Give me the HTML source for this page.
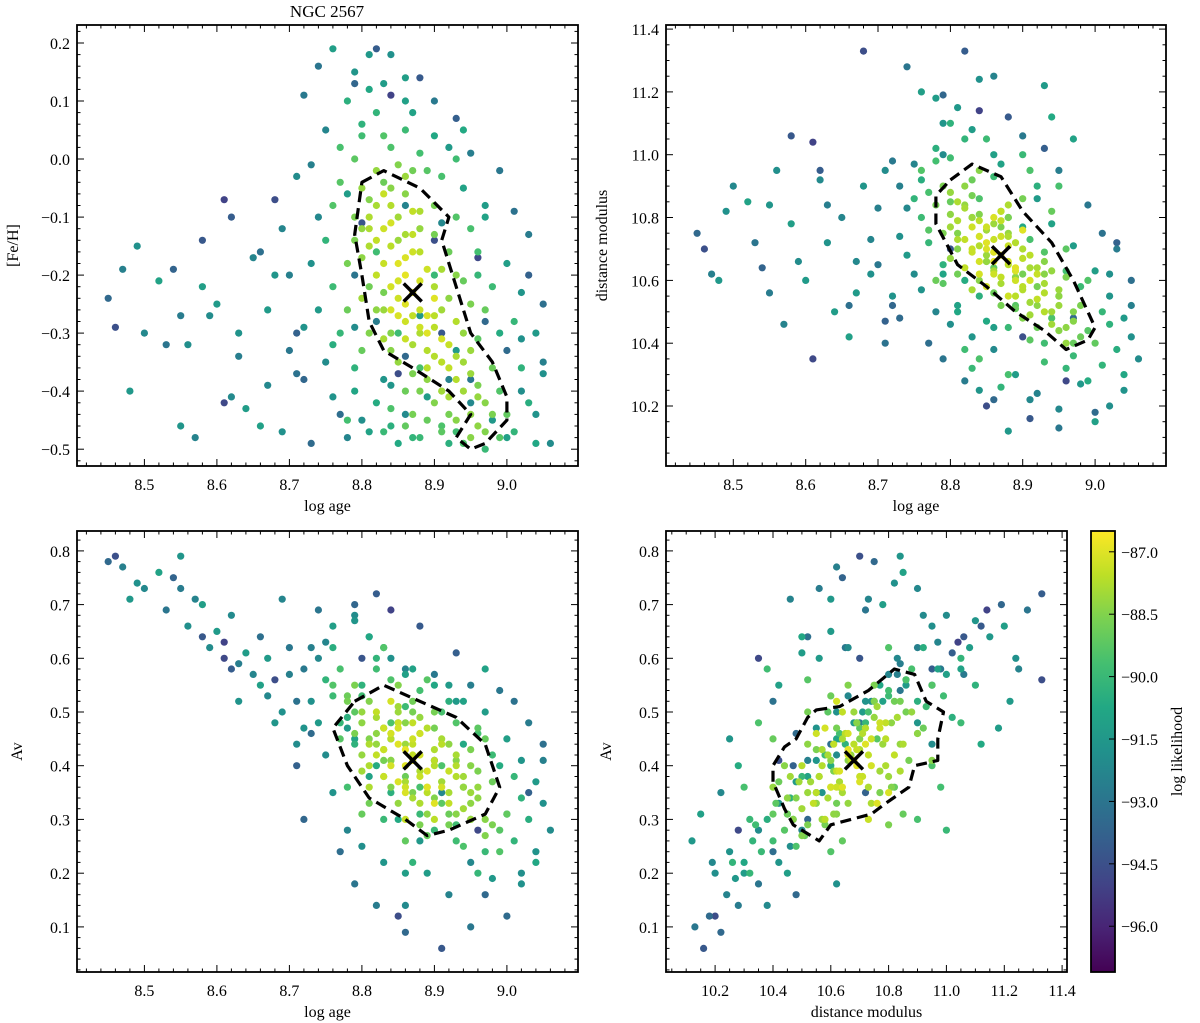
<!DOCTYPE html>
<html><head><meta charset="utf-8"><style>
html,body{margin:0;padding:0;background:#fff;}
svg{display:block;font-family:"Liberation Serif","DejaVu Serif",serif;}
</style></head><body>
<svg id="fig" width="1200" height="1023" viewBox="0 0 1200 1023" xmlns="http://www.w3.org/2000/svg">
<defs>
<linearGradient id="vir" x1="0" y1="1" x2="0" y2="0">
<stop offset="0" stop-color="#440154"/><stop offset="0.1" stop-color="#482475"/><stop offset="0.2" stop-color="#414487"/><stop offset="0.3" stop-color="#355f8d"/><stop offset="0.4" stop-color="#2a788e"/><stop offset="0.5" stop-color="#21918c"/><stop offset="0.6" stop-color="#22a884"/><stop offset="0.7" stop-color="#44bf70"/><stop offset="0.8" stop-color="#7ad151"/><stop offset="0.9" stop-color="#bddf26"/><stop offset="1" stop-color="#fde725"/>
</linearGradient>
</defs>
<text x="327" y="17" font-size="17" text-anchor="middle">NGC 2567</text>
</svg>
<script>
const samples=[
[8.87,-0.23,10.68,0.41,-86.8],[8.85,-0.18,10.72,0.44,-87.0],[8.89,-0.27,10.63,0.39,-87.1],[8.83,-0.12,10.77,0.47,-87.3],[8.91,-0.31,10.60,0.36,-87.2],[8.86,-0.20,10.66,0.43,-86.9],[8.88,-0.26,10.71,0.38,-87.4],[8.84,-0.15,10.79,0.45,-87.6],[8.90,-0.34,10.57,0.40,-87.7],[8.82,-0.08,10.83,0.49,-87.9],[8.92,-0.36,10.54,0.33,-87.5],[8.80,-0.05,10.88,0.50,-88.2],[8.94,-0.40,10.50,0.32,-88.0],[8.86,-0.28,10.62,0.36,-87.3],[8.84,-0.22,10.74,0.40,-87.2],[8.88,-0.16,10.65,0.46,-87.6],[8.90,-0.22,10.70,0.43,-87.8],[8.83,-0.26,10.80,0.38,-88.1],[8.87,-0.32,10.59,0.34,-87.9],[8.85,-0.10,10.76,0.51,-88.0],[8.81,-0.15,10.85,0.44,-87.8],[8.93,-0.28,10.56,0.38,-87.7],[8.89,-0.38,10.61,0.31,-88.3],[8.86,-0.06,10.69,0.48,-88.4],[8.82,-0.20,10.73,0.42,-87.5],[8.95,-0.33,10.52,0.35,-88.1],[8.91,-0.19,10.64,0.45,-87.9],[8.84,-0.30,10.81,0.36,-88.5],[8.88,-0.12,10.75,0.49,-88.2],[8.79,-0.10,10.90,0.46,-88.6],[8.97,-0.42,10.47,0.30,-88.4],[8.92,-0.44,10.58,0.29,-88.7],[8.96,-0.46,10.45,0.34,-88.3],[8.85,-0.35,10.66,0.33,-88.2],[8.80,-0.24,10.77,0.39,-88.0],[8.87,-0.02,10.82,0.52,-88.8],[8.83,-0.04,10.92,0.47,-88.9],[8.90,-0.08,10.62,0.47,-88.7],[8.93,-0.20,10.66,0.41,-88.4],[8.95,-0.25,10.55,0.43,-88.6],[8.78,-0.18,10.84,0.52,-88.7],[8.81,-0.30,10.70,0.45,-88.5],[8.86,-0.40,10.56,0.38,-88.9],[8.89,-0.45,10.51,0.27,-89.0],[8.98,-0.36,10.42,0.37,-88.9],[9.00,-0.44,10.40,0.31,-89.1],[8.99,-0.48,10.44,0.28,-89.3],[8.94,-0.49,10.48,0.25,-89.5],[8.91,-0.47,10.41,0.33,-89.2],[8.76,-0.08,10.95,0.55,-89.4],[8.77,0.02,10.88,0.58,-89.6],[8.80,0.04,10.99,0.53,-89.8],[8.84,0.02,10.86,0.56,-89.5],[8.86,0.05,10.93,0.51,-89.9],[8.82,0.08,11.05,0.60,-90.2],[8.78,0.10,11.02,0.49,-90.4],[8.88,0.01,10.80,0.54,-89.7],[8.91,-0.03,10.73,0.50,-89.6],[8.93,-0.10,10.69,0.48,-89.4],[8.96,-0.16,10.63,0.46,-89.7],[8.98,-0.22,10.58,0.42,-89.9],[9.01,-0.28,10.50,0.38,-90.1],[9.02,-0.36,10.46,0.34,-90.3],[9.03,-0.42,10.38,0.30,-90.5],[9.01,-0.47,10.33,0.26,-90.2],[9.04,-0.49,10.30,0.22,-90.8],[8.97,-0.50,10.36,0.24,-90.0],[8.93,-0.47,10.34,0.29,-89.8],[8.88,-0.48,10.45,0.31,-90.0],[8.84,-0.46,10.55,0.35,-90.4],[8.82,-0.42,10.60,0.40,-90.6],[8.79,-0.36,10.65,0.44,-90.3],[8.77,-0.30,10.72,0.48,-90.1],[8.76,-0.22,10.80,0.53,-89.9],[8.75,-0.14,10.86,0.56,-90.2],[8.79,-0.40,10.62,0.45,-90.9],[8.81,-0.47,10.52,0.38,-91.0],[8.85,-0.49,10.47,0.30,-90.7],[8.90,0.04,10.77,0.55,-90.8],[8.87,0.08,10.97,0.58,-91.0],[8.83,0.13,11.08,0.62,-91.3],[8.81,0.18,11.15,0.64,-91.5],[8.76,0.19,11.20,0.66,-91.2],[8.84,0.18,11.24,0.60,-91.8],[8.79,0.15,11.10,0.67,-91.6],[8.86,0.10,11.00,0.57,-91.1],[8.92,0.02,10.86,0.55,-91.4],[8.94,-0.05,10.78,0.52,-91.0],[8.97,-0.08,10.71,0.50,-91.3],[9.00,-0.18,10.63,0.45,-91.2],[9.02,-0.23,10.55,0.41,-91.6],[9.04,-0.30,10.48,0.37,-91.4],[9.05,-0.37,10.42,0.33,-91.8],[9.06,-0.49,10.35,0.28,-92.0],[9.04,-0.44,10.25,0.24,-91.7],[9.02,-0.40,10.20,0.20,-91.9],[8.98,-0.45,10.27,0.19,-91.5],[8.95,-0.42,10.19,0.22,-92.2],[8.92,-0.38,10.24,0.16,-92.4],[8.89,-0.41,10.30,0.20,-91.3],[8.86,-0.44,10.38,0.14,-92.1],[8.83,-0.38,10.42,0.22,-91.6],[8.80,-0.45,10.46,0.25,-91.9],[8.78,-0.48,10.50,0.28,-92.3],[8.76,-0.41,10.57,0.35,-91.7],[8.75,-0.35,10.62,0.42,-92.0],[8.74,-0.26,10.68,0.48,-91.4],[8.73,-0.18,10.74,0.52,-91.8],[8.74,-0.10,10.83,0.60,-92.2],[8.73,-0.01,10.90,0.62,-92.5],[8.75,0.05,10.97,0.63,-92.3],[8.74,0.16,11.28,0.69,-93.0],[8.82,0.19,11.33,0.72,-94.0],[8.79,0.13,11.19,0.70,-93.6],[8.90,0.10,11.06,0.57,-92.8],[8.95,0.01,10.95,0.55,-92.6],[8.99,-0.02,10.84,0.54,-92.9],[9.01,-0.09,10.75,0.52,-93.1],[9.03,-0.13,10.70,0.48,-92.7],[9.05,-0.25,10.60,0.44,-93.2],[9.05,-0.35,10.52,0.41,-92.5],[9.00,-0.33,10.18,0.12,-93.4],[8.95,-0.38,10.13,0.10,-92.9],[8.91,-0.30,10.16,0.06,-94.2],[8.86,-0.34,10.22,0.09,-93.5],[8.82,-0.28,10.28,0.14,-92.7],[8.79,-0.20,10.35,0.18,-93.0],[8.77,-0.44,10.40,0.24,-93.3],[8.72,-0.38,10.52,0.30,-93.6],[8.71,-0.30,10.47,0.40,-93.8],[9.03,-0.20,10.72,0.35,-93.8],[8.97,-0.28,10.48,0.16,-93.5],[8.93,0.07,11.02,0.61,-93.9],[8.88,0.14,11.12,0.66,-94.1],[8.85,-0.37,10.20,0.12,-94.6],[8.96,-0.17,10.28,0.28,-94.8],[8.84,0.11,11.14,0.69,-95.0],[8.90,-0.14,10.42,0.41,-94.5],[8.80,-0.11,10.70,0.60,-94.3],
[8.86,-0.25,10.69,0.40,-87.0],[8.88,-0.21,10.66,0.42,-87.2],[8.85,-0.27,10.70,0.37,-87.1],[8.87,-0.16,10.74,0.45,-87.3],[8.89,-0.30,10.64,0.36,-87.0],[8.83,-0.18,10.69,0.43,-87.4],[8.90,-0.27,10.67,0.41,-87.6],[8.84,-0.08,10.71,0.46,-87.7],[8.92,-0.32,10.62,0.39,-87.4],[8.81,-0.12,10.79,0.40,-87.8],[8.93,-0.34,10.59,0.42,-87.9],[8.87,-0.09,10.79,0.48,-87.5],[8.89,-0.36,10.55,0.35,-87.6],[8.91,-0.40,10.53,0.37,-88.0],[8.85,-0.14,10.68,0.50,-88.1],[8.82,-0.02,10.84,0.44,-88.2],[8.95,-0.37,10.57,0.30,-88.1],[8.88,-0.30,10.74,0.33,-87.8],[8.86,-0.13,10.63,0.37,-87.9],[8.80,-0.17,10.81,0.48,-88.3],[8.94,-0.30,10.63,0.36,-88.2],[8.90,-0.42,10.48,0.34,-88.5],[8.84,-0.33,10.60,0.41,-88.4],[8.92,-0.24,10.52,0.44,-88.3],[8.96,-0.39,10.61,0.39,-88.6],[8.81,-0.07,10.75,0.52,-88.5],[8.87,-0.37,10.77,0.35,-88.6],[8.83,-0.23,10.87,0.41,-88.7],
[8.84,-0.11,10.62,0.52,-87.2],[8.86,-0.17,10.80,0.35,-87.1],[8.88,-0.29,10.55,0.46,-87.3],[8.90,-0.24,10.76,0.33,-87.0],[8.83,-0.06,10.70,0.38,-87.4],[8.85,-0.21,10.58,0.47,-87.2],[8.87,-0.27,10.82,0.42,-87.5],[8.89,-0.19,10.60,0.36,-87.3],[8.91,-0.35,10.68,0.44,-87.6],[8.82,-0.14,10.64,0.50,-87.5],[8.93,-0.38,10.50,0.40,-87.7],[8.86,-0.31,10.73,0.30,-87.4],[8.84,-0.26,10.66,0.46,-87.2],[8.88,-0.09,10.84,0.39,-87.8],[8.90,-0.29,10.58,0.30,-87.6],[8.85,-0.24,10.77,0.48,-87.3],[8.87,-0.13,10.61,0.44,-87.5],[8.92,-0.41,10.64,0.35,-87.9],[8.81,-0.10,10.73,0.36,-87.8],[8.94,-0.35,10.46,0.38,-88.0],[8.83,-0.31,10.57,0.43,-87.9],[8.86,-0.03,10.78,0.44,-88.1],[8.89,-0.33,10.72,0.47,-87.7],[8.91,-0.26,10.49,0.37,-88.0],[8.80,-0.12,10.67,0.42,-88.2],[8.95,-0.44,10.55,0.33,-88.3],[8.96,-0.41,10.40,0.36,-88.2],[8.93,-0.45,10.62,0.31,-88.4],[8.97,-0.47,10.50,0.27,-88.5],[8.95,-0.48,10.44,0.40,-88.4],[8.98,-0.44,10.52,0.29,-88.6],[8.82,-0.26,10.90,0.46,-88.3],[8.84,-0.05,10.95,0.41,-88.4],[8.85,-0.01,10.66,0.55,-88.5],[8.88,-0.40,10.80,0.29,-88.6],[8.87,-0.44,10.52,0.50,-88.7],[8.79,-0.14,10.75,0.55,-88.6],[8.81,-0.22,10.62,0.33,-88.8],[8.90,-0.13,10.86,0.50,-88.7],[8.92,-0.16,10.45,0.31,-88.9],[8.94,-0.21,10.82,0.36,-89.0],[8.78,-0.26,10.60,0.53,-88.9],[8.80,-0.33,10.85,0.31,-89.0],[8.86,-0.46,10.64,0.26,-89.1],[8.96,-0.31,10.70,0.47,-89.2],[8.97,-0.26,10.40,0.45,-89.0],[8.77,-0.04,10.76,0.45,-89.3],[8.79,0.00,10.59,0.50,-89.2],[8.83,0.04,10.80,0.62,-89.4],[8.89,-0.02,10.52,0.56,-89.3],[8.91,-0.46,10.95,0.40,-89.5],[8.99,-0.40,10.60,0.24,-89.4],[8.95,-0.12,10.90,0.30,-89.6],[8.84,-0.43,10.35,0.48,-89.5],[8.78,-0.45,10.98,0.36,-89.7],[8.93,0.00,10.40,0.26,-89.8],[8.88,-0.36,10.30,0.36,-89.6],[8.85,-0.30,11.05,0.48,-89.9],[8.90,-0.20,11.00,0.28,-90.0],[8.82,-0.16,10.38,0.58,-89.8],[8.96,-0.20,10.32,0.20,-90.1],[8.80,0.06,11.10,0.55,-90.3],[8.87,-0.48,10.26,0.22,-90.2],[8.92,-0.49,10.90,0.52,-90.4],[8.76,-0.32,10.92,0.62,-90.5],[8.99,-0.30,10.28,0.40,-90.6],[8.83,-0.47,10.32,0.30,-90.0],[8.94,0.05,11.12,0.44,-90.7],[8.81,0.12,10.50,0.64,-90.8],[8.97,-0.10,11.05,0.58,-91.0],[8.86,0.14,10.45,0.20,-91.2],[9.00,-0.48,10.15,0.31,-91.1],[8.78,-0.06,11.18,0.47,-91.3],[8.88,-0.27,10.12,0.26,-91.5],[8.93,-0.33,11.22,0.52,-91.4],[8.84,-0.39,10.25,0.45,-91.6],[9.02,-0.31,10.62,0.18,-91.8],[8.79,-0.29,11.00,0.68,-92.0],[8.91,-0.11,10.22,0.35,-92.2],[8.86,-0.08,11.25,0.58,-92.4],
[8.45,-0.24,10.75,0.78,-93.5],[8.46,-0.29,10.70,0.79,-94.5],[8.47,-0.19,10.62,0.77,-92.5],[8.49,-0.15,10.82,0.74,-91.8],[8.48,-0.40,10.60,0.71,-91.5],[8.50,-0.30,10.90,0.73,-92.2],[8.52,-0.21,10.85,0.76,-91.0],[8.53,-0.32,10.72,0.69,-93.0],[8.54,-0.19,10.64,0.75,-93.7],[8.55,-0.46,10.84,0.79,-91.6],[8.55,-0.27,10.56,0.73,-92.7],[8.56,-0.32,10.95,0.66,-91.9],[8.57,-0.48,10.46,0.71,-92.4],[8.58,-0.14,11.06,0.64,-94.2],[8.58,-0.22,10.78,0.70,-91.2],[8.59,-0.27,10.66,0.62,-92.0],[8.60,-0.25,10.60,0.65,-91.4],[8.61,-0.42,10.35,0.60,-94.8],[8.61,-0.07,11.04,0.63,-95.0],[8.62,-0.10,10.95,0.58,-94.0],[8.63,-0.34,10.84,0.59,-92.6],[8.63,-0.30,10.72,0.52,-91.7],[8.64,-0.43,10.50,0.61,-91.3],[8.65,-0.17,10.80,0.57,-92.3],[8.66,-0.46,10.42,0.55,-91.1],[8.67,-0.26,10.56,0.60,-91.4],[8.67,-0.39,10.66,0.53,-92.2],[8.68,-0.07,11.33,0.56,-94.6],[8.68,-0.20,10.90,0.48,-91.6],[8.69,-0.12,10.73,0.71,-92.3],[8.69,-0.47,10.62,0.50,-91.8],[8.70,-0.20,10.83,0.57,-92.5],[8.71,-0.03,10.95,0.44,-92.0],[8.71,-0.37,10.40,0.52,-93.1],[8.72,-0.29,10.55,0.47,-91.7],[8.72,0.11,10.98,0.58,-92.8],[8.73,-0.49,10.48,0.46,-93.4],[8.70,-0.33,10.65,0.62,-92.9],[8.66,-0.16,10.52,0.64,-93.2],[8.62,-0.41,10.92,0.68,-92.1]
];
const logAge=samples.map(r=>r[0]);
const feh=samples.map(r=>r[1]);
const distMod=samples.map(r=>r[2]);
const av=samples.map(r=>r[3]);
const logLike=samples.map(r=>r[4]);

const bestFit={age:8.87,feh:-0.23,dm:10.68,av:0.41};
const contourAgeFeh=[[8.80,-0.04],[8.83,-0.02],[8.88,-0.05],[8.92,-0.10],[8.91,-0.14],[8.93,-0.22],[8.95,-0.30],[8.98,-0.35],[9.0,-0.41],[9.0,-0.45],[8.97,-0.49],[8.95,-0.50],[8.93,-0.48],[8.95,-0.44],[8.92,-0.40],[8.87,-0.36],[8.83,-0.33],[8.81,-0.28],[8.80,-0.20],[8.79,-0.13]];
const contourAgeDm=[[8.80,10.92],[8.83,10.97],[8.87,10.93],[8.90,10.82],[8.94,10.72],[8.97,10.60],[9.0,10.45],[8.99,10.41],[8.96,10.38],[8.93,10.44],[8.89,10.50],[8.85,10.58],[8.81,10.65],[8.78,10.78],[8.78,10.87]];
const contourAgeAv=[[8.79,0.52],[8.83,0.55],[8.88,0.52],[8.93,0.49],[8.97,0.44],[8.99,0.36],[8.97,0.31],[8.92,0.28],[8.89,0.27],[8.86,0.30],[8.81,0.34],[8.78,0.40],[8.76,0.47]];
const contourDmAv=[[10.55,0.504],[10.63,0.51],[10.73,0.54],[10.82,0.58],[10.89,0.57],[10.93,0.52],[10.99,0.50],[10.97,0.45],[10.97,0.41],[10.89,0.40],[10.87,0.36],[10.79,0.33],[10.74,0.31],[10.67,0.30],[10.60,0.29],[10.56,0.26],[10.47,0.29],[10.44,0.32],[10.40,0.37],[10.40,0.40],[10.44,0.435],[10.48,0.45],[10.52,0.49]];
const cbarTicks=[-87.0,-88.5,-90.0,-91.5,-93.0,-94.5,-96.0];
const cbarRange=[-97.1,-86.5];

const NS="http://www.w3.org/2000/svg";
const svg=document.getElementById('fig');
function mk(tag,attrs,parent){const e=document.createElementNS(NS,tag);for(const k in attrs)e.setAttribute(k,attrs[k]);(parent||svg).appendChild(e);return e;}
const vstops=[[0,[68,1,84]],[0.1,[72,36,117]],[0.2,[65,68,135]],[0.3,[53,95,141]],[0.4,[42,120,142]],[0.5,[33,145,140]],[0.6,[34,168,132]],[0.7,[68,191,112]],[0.8,[122,209,81]],[0.9,[189,223,38]],[1,[253,231,37]]];
function viridis(t){t=Math.max(0,Math.min(1,t));for(let i=1;i<vstops.length;i++){if(t<=vstops[i][0]){const a=vstops[i-1],b=vstops[i];const f=(t-a[0])/(b[0]-a[0]);const c=a[1].map((v,j)=>Math.round(v+(b[1][j]-v)*f));return `rgb(${c[0]},${c[1]},${c[2]})`;}}return 'rgb(253,231,37)';}
function fmt(v,d){const s=Math.abs(v).toFixed(d);return (v<-1e-9?'\u2212':'')+s;}

function panel(cfg){
  const g=mk('g',{});
  
  
  const [L,T,R,B]=cfg.box;
  const sx=v=>L+(v-cfg.xr[0])/(cfg.xr[1]-cfg.xr[0])*(R-L);
  const sy=v=>B-(v-cfg.yr[0])/(cfg.yr[1]-cfg.yr[0])*(B-T);
  const clipId=cfg.name+'-clip';
  const cp=mk('clipPath',{id:clipId},g);mk('rect',{x:L,y:T,width:R-L,height:B-T},cp);
  const dots=mk('g',{'clip-path':`url(#${clipId})`},g);
  
  
  const idx=cfg.xs.map((_,i)=>i).sort((a,b)=>logLike[a]-logLike[b]);
  idx.forEach(i=>{
    const c=mk('circle',{cx:sx(cfg.xs[i]).toFixed(1),cy:sy(cfg.ys[i]).toFixed(1),r:3.6,fill:viridis((logLike[i]-cbarRange[0])/(cbarRange[1]-cbarRange[0]))},dots);
    
    
  });
  const pts=cfg.contour.map(p=>sx(p[0]).toFixed(1)+','+sy(p[1]).toFixed(1)).join(' ');
  const poly=mk('polygon',{points:pts,fill:'none',stroke:'#000','stroke-width':3.2,'stroke-dasharray':'11,6','stroke-linejoin':'round'},g);
  
  
  const mx=sx(cfg.best[0]),my=sy(cfg.best[1]);
  const xm=mk('path',{d:`M${mx-9},${my-9}L${mx+9},${my+9}M${mx-9},${my+9}L${mx+9},${my-9}`,stroke:'#000','stroke-width':3.5},g);
  
  
  const tk=mk('g',{stroke:'#000','stroke-width':1},g);
  const eps=1e-9;
  for(let v=Math.ceil(cfg.xr[0]/cfg.xminor-eps)*cfg.xminor;v<=cfg.xr[1]+eps;v+=cfg.xminor){
    const x=sx(v).toFixed(1);const maj=Math.abs(v/cfg.xmajor-Math.round(v/cfg.xmajor))<1e-6;const l=maj?7:3.5;
    mk('line',{x1:x,y1:B,x2:x,y2:B-l},tk);mk('line',{x1:x,y1:T,x2:x,y2:T+l},tk);
  }
  for(let v=Math.ceil(cfg.yr[0]/cfg.yminor-eps)*cfg.yminor;v<=cfg.yr[1]+eps;v+=cfg.yminor){
    const y=sy(v).toFixed(1);const maj=Math.abs(v/cfg.ymajor-Math.round(v/cfg.ymajor))<1e-6;const l=maj?7:3.5;
    mk('line',{x1:L,y1:y,x2:L+l,y2:y},tk);mk('line',{x1:R,y1:y,x2:R-l,y2:y},tk);
  }
  cfg.xticks.forEach(v=>{const t=mk('text',{x:sx(v),y:B+24,'font-size':16,'text-anchor':'middle'},g);t.textContent=fmt(v,1);
    });
  cfg.yticks.forEach(v=>{const t=mk('text',{x:L-7,y:sy(v)+6,'font-size':16,'text-anchor':'end'},g);t.textContent=fmt(v,1);
    });
  const fr=mk('rect',{x:L,y:T,width:R-L,height:B-T,fill:'none',stroke:'#000','stroke-width':1.8},g);
  
  const xl=mk('text',{x:(L+R)/2,y:B+45,'font-size':16,'text-anchor':'middle'},g);xl.textContent=cfg.xlabel;
  
  const yx=L-cfg.ylabOff,yy=(T+B)/2;
  const yl=mk('text',{x:yx,y:yy,'font-size':16,'text-anchor':'middle',transform:`rotate(-90 ${yx} ${yy})`},g);yl.textContent=cfg.ylabel;
  
}
const ageR=[8.407,9.098], ageT=[8.5,8.6,8.7,8.8,8.9,9.0];
panel({name:'panel-age-feh',box:[77,25,578,466],xr:ageR,yr:[-0.529,0.231],xs:logAge,ys:feh,contour:contourAgeFeh,best:[bestFit.age,bestFit.feh],
  xticks:ageT,yticks:[-0.5,-0.4,-0.3,-0.2,-0.1,0.0,0.1,0.2],xmajor:0.1,xminor:0.02,ymajor:0.1,yminor:0.02,xlabel:'log age',ylabel:'[Fe/H]',ylabOff:59});
panel({name:'panel-age-distance',box:[666,25,1166,466],xr:ageR,yr:[10.009,11.413],xs:logAge,ys:distMod,contour:contourAgeDm,best:[bestFit.age,bestFit.dm],
  xticks:ageT,yticks:[10.2,10.4,10.6,10.8,11.0,11.2,11.4],xmajor:0.1,xminor:0.02,ymajor:0.2,yminor:0.05,xlabel:'log age',ylabel:'distance modulus',ylabOff:59});
panel({name:'panel-age-av',box:[77,531,578,972],xr:ageR,yr:[0.016,0.837],xs:logAge,ys:av,contour:contourAgeAv,best:[bestFit.age,bestFit.av],
  xticks:ageT,yticks:[0.1,0.2,0.3,0.4,0.5,0.6,0.7,0.8],xmajor:0.1,xminor:0.02,ymajor:0.1,yminor:0.02,xlabel:'log age',ylabel:'Av',ylabOff:55});
panel({name:'panel-distance-av',box:[666,531,1067,972],xr:[10.03,11.417],yr:[0.016,0.837],xs:distMod,ys:av,contour:contourDmAv,best:[bestFit.dm,bestFit.av],
  xticks:[10.2,10.4,10.6,10.8,11.0,11.2,11.4],yticks:[0.1,0.2,0.3,0.4,0.5,0.6,0.7,0.8],xmajor:0.2,xminor:0.05,ymajor:0.1,yminor:0.02,xlabel:'distance modulus',ylabel:'Av',ylabOff:55});

const cb=mk('g',{});


const cT=531,cB=972,cL=1091,cR=1115;
mk('rect',{x:cL,y:cT,width:cR-cL,height:cB-cT,fill:'url(#vir)',stroke:'#000','stroke-width':1.8},cb);
const cy=v=>cB-(v-cbarRange[0])/(cbarRange[1]-cbarRange[0])*(cB-cT);
cbarTicks.forEach(v=>{
  const y=cy(v);
  mk('line',{x1:cR,y1:y,x2:cR-6,y2:y,stroke:'#000','stroke-width':1},cb);
  const t=mk('text',{x:cR+6,y:y+6,'font-size':16},cb);t.textContent=fmt(v,1);
  
  
});
const lx=1182,ly=(cT+cB)/2;
const cl=mk('text',{x:lx,y:ly,'font-size':16,'text-anchor':'middle',transform:`rotate(-90 ${lx} ${ly})`},cb);
cl.textContent='log likelihood';


</script>
</body></html>
